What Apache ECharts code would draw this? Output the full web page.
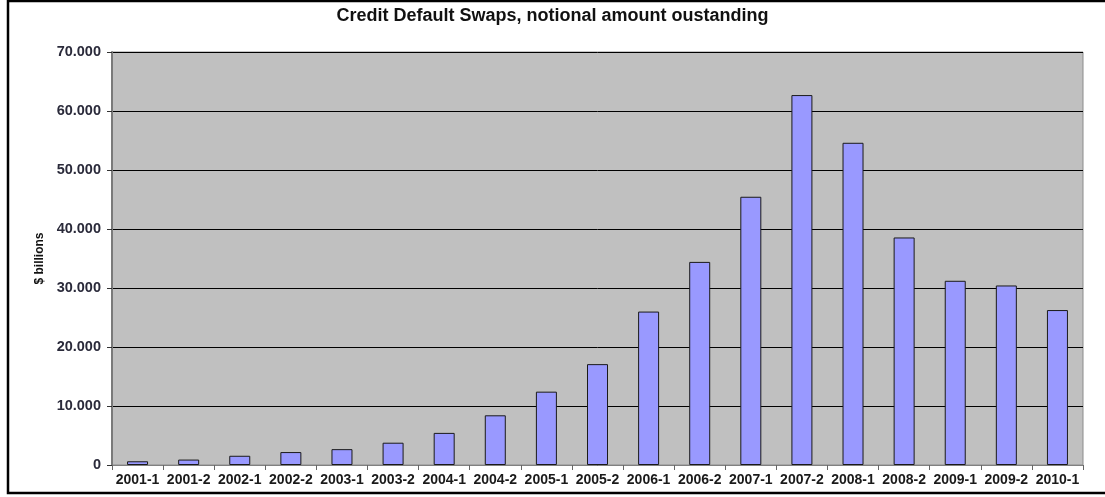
<!DOCTYPE html>
<html>
<head>
<meta charset="utf-8">
<script src="https://cdn.jsdelivr.net/npm/echarts@6/dist/echarts.min.js"></script>
<style>
html, body { margin: 0; padding: 0; background: #fff; }
#chart { width: 1105px; height: 497px; }
</style>
</head>
<body>
<div id="chart"></div>
<script>
// half-year periods
const periods = ['2001-1', '2001-2', '2002-1', '2002-2', '2003-1', '2003-2', '2004-1', '2004-2',
    '2005-1', '2005-2', '2006-1', '2006-2', '2007-1', '2007-2', '2008-1', '2008-2',
    '2009-1', '2009-2', '2010-1']
// notional amount outstanding, $ billions
const notional = [632, 919, 1563, 2192, 2687, 3779, 5442, 8422,
    12430, 17096, 26006, 34423, 45464, 62700, 54612, 38564,
    31223, 30428, 26263]
const yTicks = { min: 0, max: 70000, step: 10000 }

function fmt(v) {
    // thousands separator as a dot, like the original
    return String(v).replace(/\B(?=(\d{3})+(?!\d))/g, '.')
}

const myChart = echarts.init(document.getElementById('chart'))
myChart.setOption({
    animation: false,
    backgroundColor: '#fff',
    textStyle: { fontFamily: 'Liberation Sans, Arial, sans-serif' },
    title: {
        text: 'Credit Default Swaps, notional amount oustanding',
        left: 'center',
        top: 2,
        textStyle: { fontSize: 18, fontWeight: 'bold', color: '#111' }
    },
    graphic: [{
        type: 'rect',
        shape: { x: 8, y: 1, width: 1120, height: 492 },
        style: { fill: 'none', stroke: '#000', lineWidth: 2.5 },
        silent: true
    }],
    grid: {
        left: 112,
        right: 22,
        top: 52,
        bottom: 32,
        show: true,
        backgroundColor: '#C0C0C0',
        borderColor: '#8c8c8c',
        borderWidth: 1
    },
    xAxis: {
        type: 'category',
        data: periods,
        axisLine: { lineStyle: { color: '#808080', width: 1 } },
        axisTick: { show: true, length: 5, lineStyle: { color: '#666' } },
        axisLabel: { color: '#1a1a1a', fontSize: 14, fontWeight: 'bold', margin: 8, interval: 0 },
        splitLine: { show: false }
    },
    yAxis: {
        type: 'value',
        min: yTicks.min,
        max: yTicks.max,
        interval: yTicks.step,
        name: '$ billions',
        nameLocation: 'middle',
        nameRotate: 90,
        nameGap: 66,
        nameTextStyle: { fontSize: 12, fontWeight: 'bold', color: '#111' },
        axisLine: { show: true, lineStyle: { color: '#7a7a7a', width: 2 } },
        axisTick: { show: true, length: 5, lineStyle: { color: '#333' } },
        axisLabel: { color: '#2a2a3a', fontSize: 14.5, fontWeight: 'bold', margin: 11, formatter: fmt },
        splitLine: { lineStyle: { color: '#000', width: 1 } }
    },
    series: [{
        type: 'bar',
        data: notional,
        barWidth: 21,
        itemStyle: { color: '#9999FF', borderColor: '#1a1a1a', borderWidth: 1 }
    }]
})
</script>
</body>
</html>
